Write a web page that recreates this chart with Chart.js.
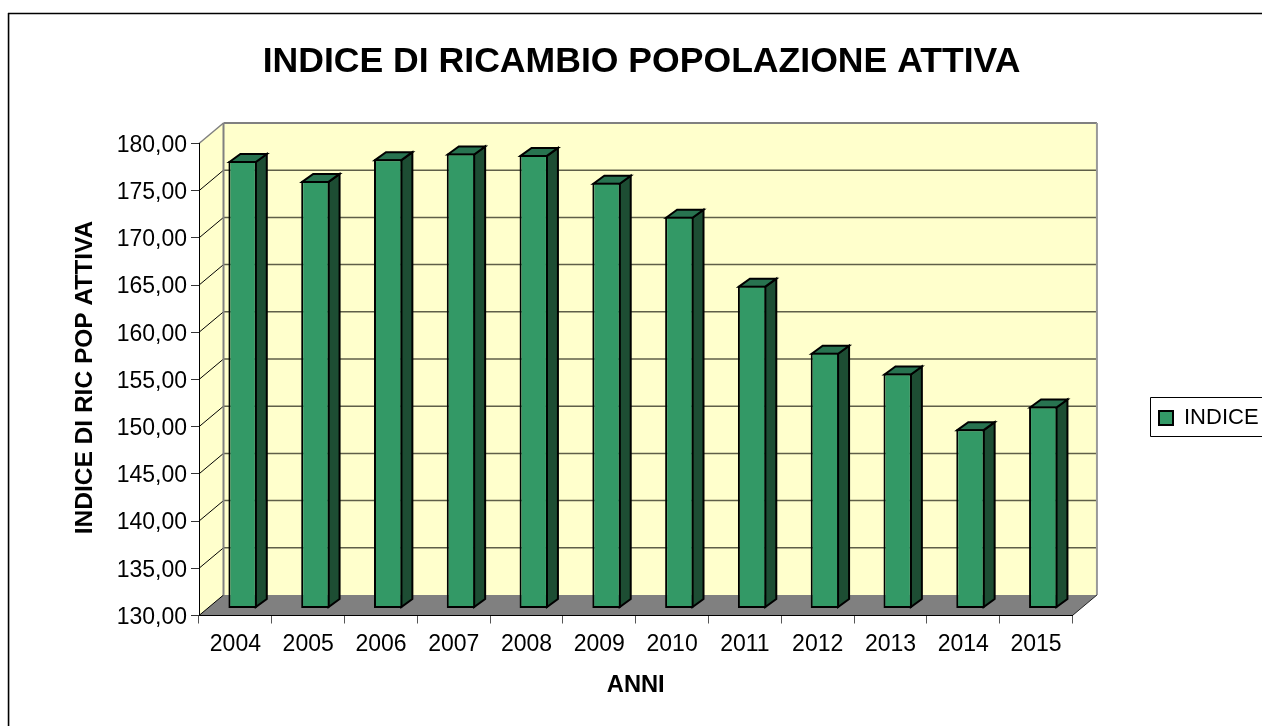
<!DOCTYPE html>
<html>
<head>
<meta charset="utf-8">
<title>Indice di ricambio popolazione attiva</title>
<script src="https://cdn.jsdelivr.net/npm/chart.js@4/dist/chart.umd.js"></script>
<style>
  html, body { margin: 0; padding: 0; background: #fff; overflow: hidden; }
  canvas { display: block; }
</style>
</head>
<body>
<canvas id="chart" width="1262" height="726"></canvas>
<script>
const years = ['2004', '2005', '2006', '2007', '2008', '2009', '2010', '2011', '2012', '2013', '2014', '2015'];
const indice = [177.4, 175.3, 177.6, 178.2, 178.05, 175.1, 171.5, 164.2, 157.1, 154.9, 149.0, 151.4];
const yTickLabels = ['130,00', '135,00', '140,00', '145,00', '150,00', '155,00', '160,00', '165,00', '170,00', '175,00', '180,00'];
const chartTitle = 'INDICE DI RICAMBIO POPOLAZIONE ATTIVA';
const xAxisTitle = 'ANNI';
const yAxisTitle = 'INDICE DI RIC POP ATTIVA';
const seriesName = 'INDICE';

const FONT = '"Liberation Sans", Arial, sans-serif';

// Depth of the fake 3D box, and of each bar inside it
const wallDx = 24.5, wallDy = -20.5;
const barDx = 11, barDy = -8;
const barShiftX = 7.2, barShiftY = -7;

function poly(ctx, pts, fill, stroke, lineWidth) {
    ctx.beginPath();
    pts.forEach((p, i) => i ? ctx.lineTo(p[0], p[1]) : ctx.moveTo(p[0], p[1]));
    ctx.closePath();
    if (fill) {
        ctx.fillStyle = fill;
        ctx.fill();
    }
    if (stroke) {
        ctx.strokeStyle = stroke;
        ctx.lineWidth = lineWidth;
        ctx.lineJoin = 'miter';
        ctx.stroke();
    }
}

function line(ctx, x1, y1, x2, y2, color, lineWidth) {
    ctx.beginPath();
    ctx.moveTo(x1, y1);
    ctx.lineTo(x2, y2);
    ctx.strokeStyle = color;
    ctx.lineWidth = lineWidth;
    ctx.stroke();
}

// Shift one of the scale's drawing steps by a few pixels
function nudge(scale, method, dx, dy) {
    const original = scale[method];
    scale[method] = function (...args) {
        scale.ctx.save();
        scale.ctx.translate(dx, dy);
        original.apply(scale, args);
        scale.ctx.restore();
    };
}

const box3d = {
    id: 'box3d',
    // Move title and legend to where the original has them
    afterLayout(chart) {
        chart.titleBlock.left = 0;
        chart.titleBlock.right = 1283;
        chart.legend.left = 1149;
        chart.legend.right = 1262;
        chart.legend.top = 397;
        nudge(chart.scales.y, 'drawTitle', 0, -2);
        nudge(chart.scales.y, 'drawLabels', 0, 2);
    },
    beforeDraw(chart) {
        const ctx = chart.ctx;
        const { left, right, top, bottom } = chart.chartArea;
        const yScale = chart.scales.y;

        // outer frame, open on the right and at the bottom
        line(ctx, 8.5, 13, 8.5, 726, '#000', 1.5);
        line(ctx, 9.5, 14, 9.5, 726, '#a6a6a6', 1);
        line(ctx, 8, 13.5, 1262, 13.5, '#000', 1.5);

        // walls and floor
        poly(ctx, [[left + wallDx, top + wallDy], [right + wallDx, top + wallDy], [right + wallDx, bottom + wallDy], [left + wallDx, bottom + wallDy]], '#ffffcc');
        poly(ctx, [[left, top], [left + wallDx, top + wallDy], [left + wallDx, bottom + wallDy], [left, bottom]], '#ffffcc');
        poly(ctx, [[left, bottom], [left + wallDx, bottom + wallDy], [right + wallDx, bottom + wallDy], [right, bottom]], '#808080');

        // gridlines
        yTickLabels.forEach((label, i) => {
            const y = yScale.getPixelForTick(i);
            if (i > 0 && i < yTickLabels.length - 1) {
                line(ctx, left + wallDx, y + wallDy, right + wallDx, y + wallDy, '#5f5f48', 1.5);
            }
            if (i < yTickLabels.length - 1) {
                line(ctx, left, y, left + wallDx, y + wallDy, '#000', 1);
            }
        });

        // frame of the back wall
        line(ctx, left, top, left + wallDx, top + wallDy, '#808080', 1.5);
        line(ctx, left + wallDx, top + wallDy, right + wallDx, top + wallDy, '#808080', 2);
        line(ctx, right + wallDx, top + wallDy, right + wallDx, bottom + wallDy, '#999', 2);
        line(ctx, left + wallDx, top + wallDy, left + wallDx, bottom + wallDy, '#808080', 2);
        line(ctx, right, bottom, right + wallDx, bottom + wallDy, '#222', 1);
    },
    beforeDatasetsDraw(chart) {
        const ctx = chart.ctx;
        ctx.save();
        ctx.translate(barShiftX, barShiftY);
        // side and top of every bar, the library draws the front afterwards
        chart.getDatasetMeta(0).data.forEach(bar => {
            const { x, y, base, width } = bar.getProps(['x', 'y', 'base', 'width']);
            const l = x - width / 2 + 1, r = x + width / 2 - 1, t = y + 1, b = base - 1;
            poly(ctx, [[r, t], [r + barDx, t + barDy], [r + barDx, b + barDy], [r, b]], '#1d4d33', '#000', 2);
            poly(ctx, [[l, t], [l + barDx, t + barDy], [r + barDx, t + barDy], [r, t]], '#287350', '#000', 2);
        });
    },
    afterDatasetsDraw(chart) {
        chart.ctx.restore();
    },
    afterDraw(chart) {
        // box around the legend
        const ctx = chart.ctx;
        ctx.strokeStyle = '#000';
        ctx.lineWidth = 1;
        ctx.beginPath();
        ctx.moveTo(1262, 397.5);
        ctx.lineTo(1150.5, 397.5);
        ctx.lineTo(1150.5, 436.5);
        ctx.lineTo(1262, 436.5);
        ctx.stroke();
    }
};

new Chart(document.getElementById('chart'), {
    type: 'bar',
    data: {
        labels: years,
        datasets: [{
            label: seriesName,
            data: indice,
            base: 130,
            backgroundColor: '#339966',
            borderColor: '#000',
            borderWidth: 2,
            borderSkipped: false,
            barPercentage: 0.39,
            categoryPercentage: 1
        }]
    },
    plugins: [box3d],
    options: {
        responsive: false,
        animation: false,
        layout: { padding: { left: 0, right: 70, top: 0, bottom: 0 } },
        plugins: {
            title: {
                display: true,
                text: chartTitle,
                color: '#000',
                font: { family: FONT, size: 35.6, weight: 'bold', lineHeight: 1.2 },
                padding: { top: 40.6, bottom: 60.2 }
            },
            legend: {
                position: 'right',
                align: 'start',
                labels: {
                    color: '#000',
                    boxWidth: 14,
                    boxHeight: 14,
                    padding: 10,
                    font: { family: FONT, size: 22 }
                }
            },
            tooltip: { enabled: false }
        },
        scales: {
            x: {
                afterFit: scale => { scale.height = 726 - 615.5; },
                title: {
                    display: true,
                    text: xAxisTitle,
                    color: '#000',
                    padding: { top: 0, bottom: 28.5 },
                    font: { family: FONT, size: 23.7, weight: 'bold', lineHeight: 1 }
                },
                grid: { drawOnChartArea: false, drawTicks: true, tickLength: 8, color: '#555' },
                border: { color: '#000', width: 1 },
                ticks: { color: '#000', padding: 7, maxRotation: 0, font: { family: FONT, size: 23 } }
            },
            y: {
                min: 130,
                max: 180,
                afterFit: scale => { scale.width = 199; },
                title: {
                    display: true,
                    text: yAxisTitle,
                    color: '#000',
                    padding: { top: 73, bottom: 0 },
                    font: { family: FONT, size: 24.5, weight: 'bold', lineHeight: 1 }
                },
                grid: { drawOnChartArea: false, drawTicks: true, tickLength: 8, color: '#333' },
                border: { color: '#000', width: 1 },
                ticks: {
                    stepSize: 5,
                    color: '#000',
                    padding: 4,
                    font: { family: FONT, size: 23 },
                    callback: (value, index) => yTickLabels[index]
                }
            }
        }
    }
});
</script>
</body>
</html>
